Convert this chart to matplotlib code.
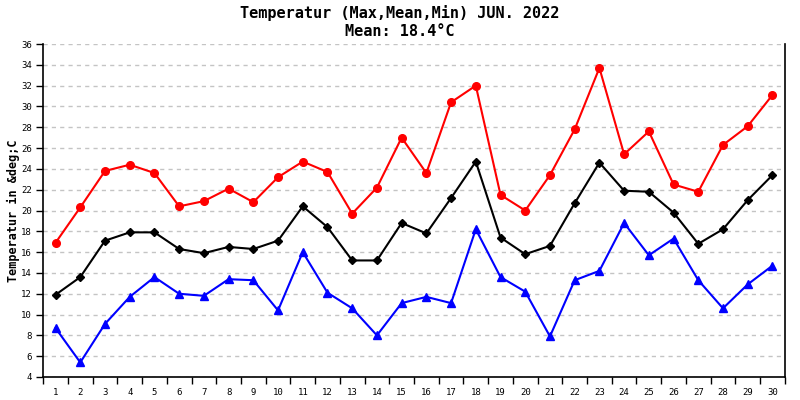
import matplotlib
matplotlib.use("Agg")
import matplotlib.pyplot as plt
import numpy as np

days = list(range(1, 31))
t_max = [16.9, 20.3, 23.8, 24.4, 23.6, 20.4, 20.9, 22.1, 20.8, 23.2,
         24.7, 23.7, 19.7, 22.2, 27.0, 23.6, 30.4, 32.0, 21.5, 20.0,
         23.4, 27.8, 33.7, 25.4, 27.6, 22.5, 21.8, 26.3, 28.1, 31.1]
t_mean = [11.9, 13.6, 17.1, 17.9, 17.9, 16.3, 15.9, 16.5, 16.3, 17.1,
          20.4, 18.4, 15.2, 15.2, 18.8, 17.8, 21.2, 24.7, 17.4, 15.8,
          16.6, 20.7, 24.6, 21.9, 21.8, 19.8, 16.8, 18.2, 21.0, 23.4]
t_min = [8.7, 5.4, 9.1, 11.7, 13.6, 12.0, 11.8, 13.4, 13.3, 10.4,
         16.0, 12.1, 10.6, 8.0, 11.1, 11.7, 11.1, 18.2, 13.6, 12.2,
         7.9, 13.3, 14.2, 18.8, 15.7, 17.3, 13.3, 10.6, 12.9, 14.7]
y_ticks = list(range(4, 37, 2))

mono = "DejaVu Sans Mono"

fig = plt.figure(figsize=(8, 4), dpi=100)
ax = fig.add_axes([0.054, 0.0575, 0.927, 0.8325])

ax.plot(days, t_max, color="#ff0000", marker="o", markersize=5.5, linewidth=1.5)
ax.plot(days, t_mean, color="black", marker="D", markersize=4, linewidth=1.5)
ax.plot(days, t_min, color="#0000ff", marker="^", markersize=6, linewidth=1.5)

ax.set_xlim(0.5, 30.5)
ax.set_ylim(4, 36)
ax.set_yticks(y_ticks)
ax.set_yticklabels([str(v) for v in y_ticks], fontsize=6.5, family=mono)
ax.set_xticks(days)
ax.set_xticklabels([str(d) for d in days], fontsize=6.5, family=mono)
ax.set_xticks(np.arange(0.5, 31, 1), minor=True)
ax.tick_params(axis="x", which="major", length=0, pad=8)
ax.tick_params(axis="x", which="minor", length=5, direction="out", width=1)
ax.tick_params(axis="y", length=5, direction="out", width=1, pad=3)

ax.yaxis.grid(True, color="#c4c4c4", linestyle=(0, (3, 3)), linewidth=1)
ax.set_axisbelow(True)
ax.spines["top"].set_visible(False)
for s in ["left", "bottom", "right"]:
    ax.spines[s].set_linewidth(1.2)

ax.set_ylabel("Temperatur in &deg;C", fontsize=8.5, family=mono, fontweight="bold")
ax.yaxis.set_label_coords(-0.031, 0.5)

fig.text(0.5, 0.967, "Temperatur (Max,Mean,Min) JUN. 2022", ha="center", va="center",
         fontsize=11, family=mono, fontweight="bold")
fig.text(0.5, 0.92, "Mean: 18.4°C", ha="center", va="center", fontsize=11,
         family=mono, fontweight="bold")

plt.savefig("out.png", dpi=100)
